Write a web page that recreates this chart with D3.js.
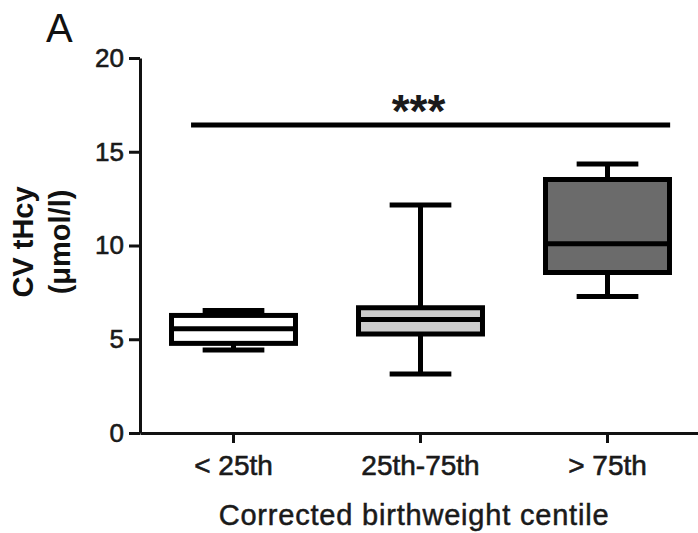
<!DOCTYPE html>
<html>
<head>
<meta charset="utf-8">
<script src="https://cdn.jsdelivr.net/npm/d3@7"></script>
<style>
  html, body { margin: 0; padding: 0; background: #fff; }
  svg { display: block; font-family: "Liberation Sans", Arial, sans-serif; }
</style>
</head>
<body>
<svg id="chart" width="698" height="533"></svg>
<script>
// ---- data ----
const categories = ["< 25th", "25th-75th", "> 75th"];
const whiskerMin = [4.43, 3.15, 7.28];
const q1 = [4.78, 5.28, 8.56];
const median = [5.56, 6.05, 10.1];
const q3 = [6.27, 6.68, 13.52];
const whiskerMax = [6.53, 12.16, 14.35];
const fills = ["#ffffff", "#cdcdcd", "#6b6b6b"];
const yTicks = [0, 5, 10, 15, 20];
const sigLevel = 16.43;
const sigLabel = "***";

// ---- layout ----
const svg = d3.select("#chart");
const x = d3.scaleBand().domain(categories).range([140, 701]).padding(0);
const y = d3.scaleLinear().domain([0, 20]).range([433, 58]);
const step = x.bandwidth();
const boxW = step * 0.663;
const capW = step * 0.33;

// y axis
const yAxis = svg.append("g").attr("transform", "translate(140,0)")
  .call(d3.axisLeft(y).tickValues(yTicks).tickSize(11).tickSizeOuter(0).tickPadding(5));
yAxis.select(".domain").attr("stroke-width", 3).attr("stroke", "#111");
yAxis.selectAll(".tick line").attr("stroke-width", 3).attr("stroke", "#111");
yAxis.selectAll(".tick text").attr("font-size", 26).attr("fill", "#1a1a1a")
  .attr("stroke", "#1a1a1a").attr("stroke-width", 0.6)
  .attr("font-family", "Liberation Sans, Arial, sans-serif");

// x axis
const xAxis = svg.append("g").attr("transform", "translate(0,433)")
  .call(d3.axisBottom(x).tickSize(10).tickSizeOuter(0).tickPadding(12));
xAxis.select(".domain").attr("stroke-width", 3).attr("stroke", "#111");
xAxis.selectAll(".tick line").attr("stroke-width", 3).attr("stroke", "#111");
xAxis.selectAll(".tick text").attr("font-size", 28).attr("fill", "#1a1a1a")
  .attr("stroke", "#1a1a1a").attr("stroke-width", 0.6)
  .attr("font-family", "Liberation Sans, Arial, sans-serif");

// boxes
const data = categories.map((c, i) => ({
  c, min: whiskerMin[i], q1: q1[i], med: median[i], q3: q3[i], max: whiskerMax[i], fill: fills[i]
}));
const g = svg.append("g");
const box = g.selectAll("g.box").data(data).join("g").attr("class", "box");
const cx = d => x(d.c) + step / 2;

// whisker stems
box.append("line").attr("x1", cx).attr("x2", cx)
  .attr("y1", d => y(d.max)).attr("y2", d => y(d.q3))
  .attr("stroke", "#000").attr("stroke-width", 5);
box.append("line").attr("x1", cx).attr("x2", cx)
  .attr("y1", d => y(d.q1)).attr("y2", d => y(d.min))
  .attr("stroke", "#000").attr("stroke-width", 5);
// caps
box.append("line").attr("x1", d => cx(d) - capW / 2).attr("x2", d => cx(d) + capW / 2)
  .attr("y1", d => y(d.max)).attr("y2", d => y(d.max))
  .attr("stroke", "#000").attr("stroke-width", 5);
box.append("line").attr("x1", d => cx(d) - capW / 2).attr("x2", d => cx(d) + capW / 2)
  .attr("y1", d => y(d.min)).attr("y2", d => y(d.min))
  .attr("stroke", "#000").attr("stroke-width", 5);
// box rect
box.append("rect")
  .attr("x", d => cx(d) - boxW / 2).attr("width", boxW)
  .attr("y", d => y(d.q3)).attr("height", d => y(d.q1) - y(d.q3))
  .attr("fill", d => d.fill).attr("stroke", "#000").attr("stroke-width", 5);
// median
box.append("line").attr("x1", d => cx(d) - boxW / 2).attr("x2", d => cx(d) + boxW / 2)
  .attr("y1", d => y(d.med)).attr("y2", d => y(d.med))
  .attr("stroke", "#000").attr("stroke-width", 5);

// significance bar
const sx1 = x(categories[0]) + step * 0.273;
const sx2 = x(categories[2]) + step * 0.835;
svg.append("line").attr("x1", sx1).attr("x2", sx2)
  .attr("y1", y(sigLevel)).attr("y2", y(sigLevel))
  .attr("stroke", "#000").attr("stroke-width", 5);
svg.append("text").attr("x", (x(categories[1]) + step / 2) - 2).attr("y", y(sigLevel) + 2)
  .attr("text-anchor", "middle").attr("font-size", 46).attr("font-weight", "bold")
  .attr("fill", "#1a1a1a").text(sigLabel);

// y title
const yt = svg.append("text").attr("transform", "translate(0,242) rotate(-90)")
  .attr("text-anchor", "middle").attr("font-size", 29).attr("font-weight", "bold").attr("fill", "#111");
yt.append("tspan").attr("x", 0).attr("y", 33).text("CV tHcy");
yt.append("tspan").attr("x", 0).attr("y", 70).text("(μmol/l)");

// x title
svg.append("text").attr("x", 414).attr("y", 525).attr("text-anchor", "middle")
  .attr("font-size", 29).attr("letter-spacing", 0.8).attr("fill", "#1a1a1a")
  .attr("stroke", "#1a1a1a").attr("stroke-width", 0.5)
  .text("Corrected birthweight centile");

// panel label
svg.append("text").attr("x", 46).attr("y", 42).attr("font-size", 40).attr("fill", "#111").text("A");
</script>
</body>
</html>
